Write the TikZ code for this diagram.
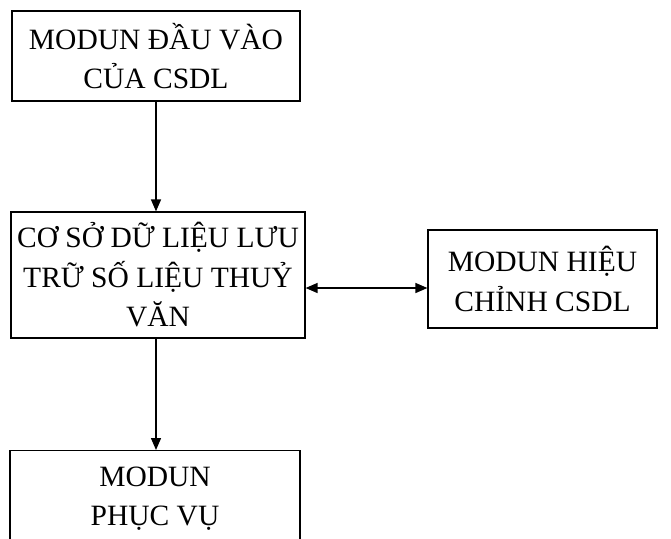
\documentclass[tikz,border=0pt]{standalone}
\usepackage{fontspec}
\setmainfont{Liberation Serif}
\usetikzlibrary{arrows.meta}
\begin{document}
\begin{tikzpicture}[x=1pt,y=-1pt,
  boxnode/.style={draw,line width=1.2pt,align=center,inner sep=0pt,
    font=\fontsize{29.5}{39.5}\selectfont},
  tip/.style={Triangle[length=12pt,width=10pt]},
  conn/.style={line width=1.4pt,-{Triangle[length=12pt,width=10pt]}},
  dconn/.style={line width=1.4pt,{Triangle[length=12pt,width=10pt]}-{Triangle[length=12pt,width=10pt]}}]
\useasboundingbox (0,0) rectangle (671,538);
\clip (0,0) rectangle (671,538);
\node[boxnode,minimum width=288pt,minimum height=90pt] (b1) at (156,56) {MODUN ĐẦU VÀO\\CỦA CSDL};
\node[boxnode,minimum width=294pt,minimum height=126pt] (b2) at (158,275) {CƠ SỞ DỮ LIỆU LƯU\\TRỮ SỐ LIỆU THUỶ\\VĂN};
\node[boxnode,minimum width=229pt,minimum height=98pt] (b3) at (542.5,279) {MODUN HIỆU\\CHỈNH CSDL};
\node[boxnode,minimum width=290pt,minimum height=96pt,anchor=north] (b4) at (155,450) {MODUN\\PHỤC VỤ};
\coordinate (ay) at (0,288);
\draw[conn] (b1.south) -- (b1.south |- b2.north);
\draw[conn] (b1.south |- b2.south) -- (b1.south |- b4.north);
\draw[dconn] (b2.east |- ay) -- (b3.west |- ay);
\end{tikzpicture}
\end{document}
